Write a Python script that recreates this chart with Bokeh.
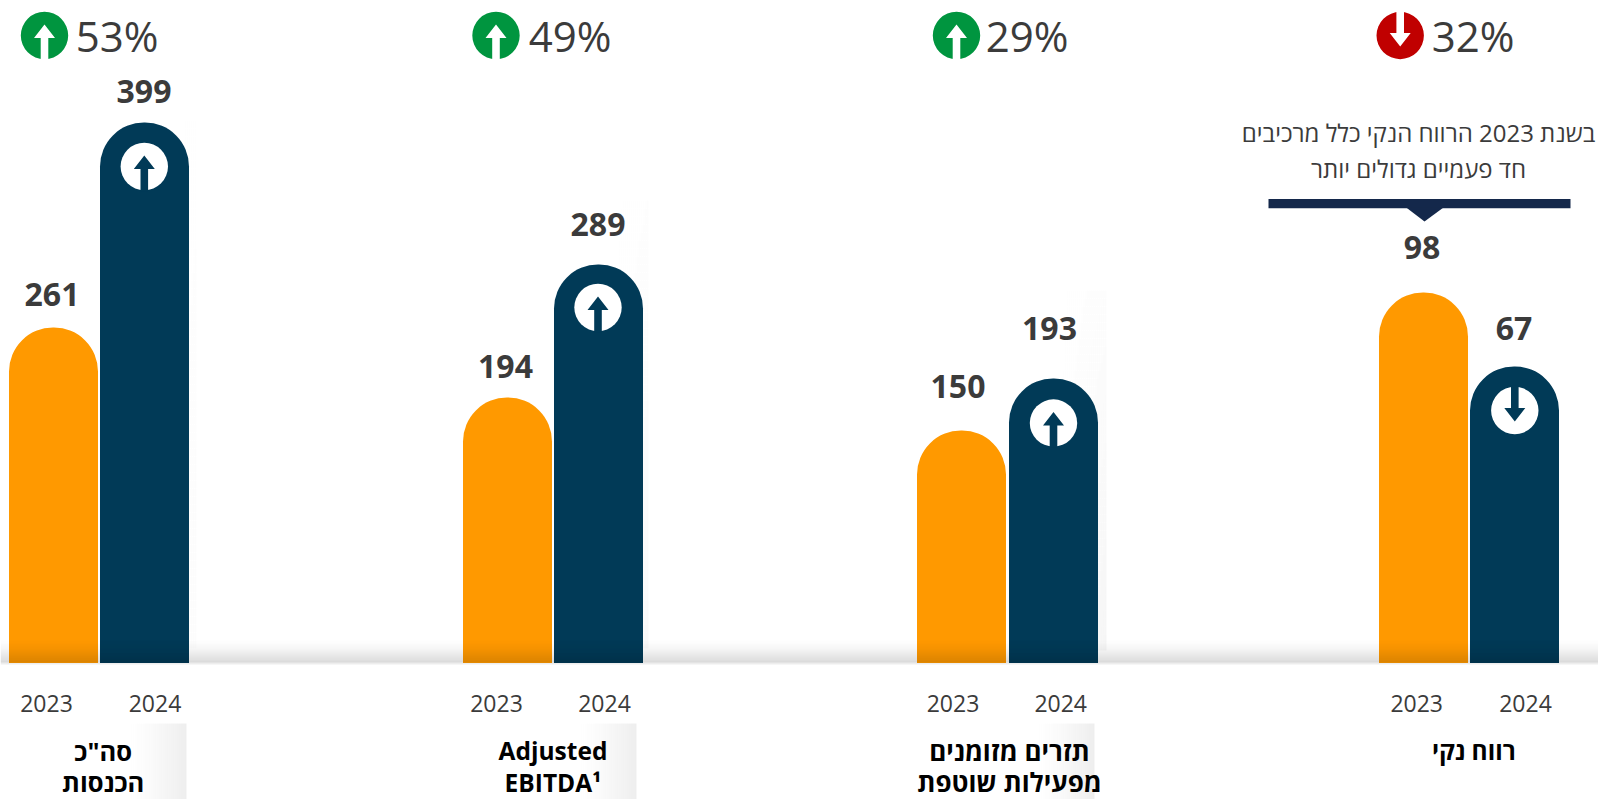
from bokeh.plotting import figure
from bokeh.models import Range1d, ColumnDataSource
from bokeh.core.properties import value
from bokeh.embed import file_html
from bokeh.resources import INLINE

# ---- data ----
years = ["2023", "2024"]
values_2023 = [261, 194, 150, 98]
values_2024 = [399, 289, 193, 67]
change_pct = ["53%", "49%", "29%", "32%"]
change_up = [True, True, True, False]
label_line1 = ['סה"כ', "Adjusted", "תזרים מזומנים", "רווח נקי"]
label_line2 = ["הכנסות", "EBITDA¹", "מפעילות שוטפת", ""]
note_lines = ["בשנת 2023 הרווח הנקי כלל מרכיבים", "חד פעמיים גדולים יותר"]

# ---- layout (page pixels) ----
W, H = 1598, 799
X0, Y0 = 0, 0
BASE = 662.5
BAR_W = 89
ORANGE, NAVY = "#ff9900", "#013a57"
TXT = "#3b3b3b"
FONT = value("Open Sans")
bar_x_23 = [53, 507, 961, 1423]
bar_x_24 = [144, 598, 1053, 1514]
top_px_23 = [327, 397, 430, 292]
top_px_24 = [122, 264, 378, 366]
val_y_23 = [293.5, 366, 386, 247]
val_y_24 = [91, 224, 327.5, 327.5]
val_x_23 = [51.5, 505, 957.5, 1421.5]
val_x_24 = [143.5, 597.5, 1049, 1513.5]
year_x_23 = [46, 496, 952.5, 1416.2]
year_x_24 = [154.5, 604, 1060.2, 1525]
label_x = [102.7, 552.5, 1009, 1473.3]
label_size = [25.5, 24.5, 26, 24.5]
icon_x = [44, 495.5, 956, 1399.7]
pct_x = [116.5, 569.5, 1026.5, 1472.5]
inner_icon_y = [166, 307, 422.5, 410]
inner_icon_x = [143.8, 597.5, 1053, 1514.3]

p = figure(width=W, height=H, x_range=Range1d(X0, X0 + W), y_range=Range1d(Y0 + H, Y0),
           output_backend="svg", toolbar_location=None, min_border=0,
           outline_line_color=None, background_fill_color="white", border_fill_color="white")
p.axis.visible = False
p.grid.visible = False


def shade(cells, color="black"):
    l, r, t, b, a = zip(*cells)
    p.quad(source=ColumnDataSource(dict(left=l, right=r, top=t, bottom=b, alpha=a)),
           left="left", right="right", top="top", bottom="bottom",
           fill_color=color, fill_alpha="alpha", line_color=None)


# faint shadows to the right of the navy bars
for x_end, y_top, strength, span in [(196, 120, 0.015, 26), (648, 200, 0.025, 40), (1106, 290, 0.04, 50)]:
    cells = []
    for xx in range(x_end - span, x_end, 2):
        for yy in range(y_top, 648, 8):
            tx = (xx - x_end + span) / span
            ty = (yy - y_top) / (648 - y_top)
            cells.append((xx, xx + 2, yy, yy + 8, strength * tx * (0.25 + 0.75 * ty)))
    shade(cells)

# gradients behind the category labels
for x_end, span in [(186, 60), (636, 60), (1094, 60)]:
    cells = []
    for xx in range(x_end - span, x_end, 2):
        cells.append((xx, xx + 2, 723, 799, 0.07 * ((xx - x_end + span) / span) ** 1.3))
    shade(cells)

# bars: each panel has its own scale, fixed by the two bars it shows
for i in range(4):
    px_per_unit = (top_px_23[i] - top_px_24[i]) / (values_2024[i] - values_2023[i])
    to_val = lambda px: values_2024[i] - (px - top_px_24[i]) / px_per_unit
    name = f"panel{i}"
    p.extra_y_ranges[name] = Range1d(to_val(Y0 + H), to_val(Y0))
    for x, v, c in [(bar_x_23[i], values_2023[i], ORANGE), (bar_x_24[i], values_2024[i], NAVY)]:
        p.vbar(x=[x], width=BAR_W, bottom=[to_val(BASE)], top=[v], y_range_name=name,
               fill_color=c, line_color=None, border_radius=(44, 44, 0, 0))

# baseline band
band = []
for yy in range(636, 662):
    t = (yy - 636) / 26
    band.append((0, 1600, yy, yy + 1, 0.16 * t ** 1.7))
band.append((0, 1600, 662, 664, 0.07))
shade(band)


def icon(cx, cy, r, disc, arrow, up):
    s = 1 if up else -1
    p.circle(x=[cx], y=[cy], radius=r, fill_color=disc, line_color=None)
    # arrow whose stem runs out through the disc edge
    p.patch(x=[cx, cx + 10.5, cx + 3.8, cx + 3.8, cx - 3.8, cx - 3.8, cx - 10.5],
            y=[cy - s * 11, cy + s * 2.5, cy + s * 2.5, cy + s * (r + 1), cy + s * (r + 1), cy + s * 2.5, cy + s * 2.5],
            fill_color=arrow, line_color=None)


for i in range(4):
    up = change_up[i]
    icon(icon_x[i], 35, 23.7, "#00953f" if up else "#c00000", "white", up)
    icon(inner_icon_x[i], inner_icon_y[i], 23.7, "white", NAVY, up)

# callout above the net-profit panel
p.quad(left=[1268], right=[1570], top=[198.5], bottom=[207.7], fill_color="#14284b", line_color=None)
p.patch(x=[1405.7, 1443, 1424], y=[207, 207, 221], fill_color="#14284b", line_color=None)


def txt(x, y, s, size, color=TXT, style="normal"):
    p.text(x=[x], y=[y], text=[s], text_font=FONT, text_font_size=f"{size}px", text_font_style=style,
           text_color=color, text_align="center", text_baseline="middle")


txt(1418, 132, note_lines[0], 24)
txt(1418, 168, note_lines[1], 24)

for i in range(4):
    txt(pct_x[i], 35, change_pct[i], 42)
    txt(val_x_23[i], val_y_23[i], str(values_2023[i]), 32, style="bold")
    txt(val_x_24[i], val_y_24[i], str(values_2024[i]), 32, style="bold")
    txt(year_x_23[i], 703, years[0], 23)
    txt(year_x_24[i], 703, years[1], 23)
    txt(label_x[i], 750, label_line1[i], label_size[i], color="#000000", style="bold")
    if label_line2[i]:
        txt(label_x[i], 781.5, label_line2[i], label_size[i], color="#000000", style="bold")

open("out.html", "w").write(file_html(p, INLINE))
